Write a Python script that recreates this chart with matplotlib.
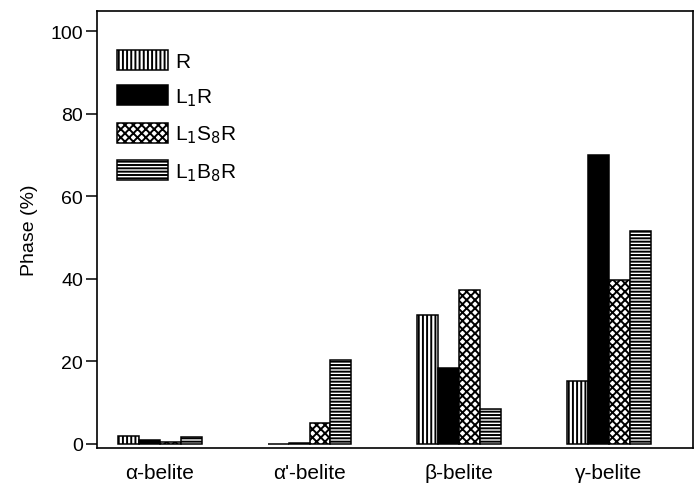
import matplotlib.pyplot as plt
import numpy as np

plt.rcParams['font.family'] = ['Liberation Sans', 'DejaVu Sans']
plt.rcParams['hatch.linewidth'] = 1.4
plt.rcParams['hatch.color'] = 'black'

# Phase fractions
phases = ['\u03b1-belite', "\u03b1'-belite", '\u03b2-belite', '\u03b3-belite']
series_names = ['R', 'L$_1$R', 'L$_1$S$_8$R', 'L$_1$B$_8$R']
r_values = [1.8, 0.0, 31.3, 15.2]
l1r_values = [0.9, 0.2, 18.4, 70.0]
l1s8r_values = [0.5, 5.0, 37.2, 39.6]
l1b8r_values = [1.6, 20.2, 8.4, 51.7]

series_values = [r_values, l1r_values, l1s8r_values, l1b8r_values]
hatches = ['||||', '', 'xxxx', '-----']
facecolors = ['white', 'black', 'white', 'white']

fig = plt.figure(figsize=(6.97, 4.89), dpi=100)
ax = fig.add_axes([0.139, 0.082, 0.855, 0.894])

x = np.arange(len(phases))
width = 0.14
for i, values in enumerate(series_values):
    offset = (i - 1.5) * width
    ax.bar(x + offset, values, width, facecolor=facecolors[i],
           edgecolor='black', hatch=hatches[i], linewidth=1.1,
           label=series_names[i])

ax.set_xlim(-0.42, 3.56)
ax.set_ylim(-1, 105)
ax.set_yticks([0, 20, 40, 60, 80, 100])
ax.set_xticks(x)
ax.set_xticklabels(phases)
ax.tick_params(axis='x', length=0, pad=11, labelsize=15)
ax.tick_params(axis='y', length=8, width=1.1, pad=2, labelsize=14)
ax.set_ylabel('Phase (%)', fontsize=14, labelpad=9)
for spine in ax.spines.values():
    spine.set_linewidth(1.2)

ax.legend(loc='upper left', bbox_to_anchor=(0.02, 0.93), frameon=False,
          fontsize=15, handlelength=2.45, handleheight=1.1,
          labelspacing=0.7, handletextpad=0.35, borderaxespad=0.0)

fig.savefig('out.png', dpi=100)
